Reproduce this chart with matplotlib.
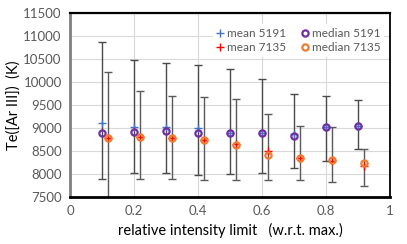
import matplotlib
matplotlib.use("Agg")
import matplotlib.pyplot as plt
import numpy as np

plt.rcParams['font.family'] = ['Lato', 'DejaVu Sans']

x5191 = [0.1, 0.2, 0.3, 0.4, 0.5, 0.6, 0.7, 0.8, 0.9]
x7135 = [0.12, 0.22, 0.32, 0.42, 0.52, 0.62, 0.72, 0.82, 0.92]

mean5191 = [9100, 9015, 9020, 8990, 8900, 8890, 8870, 9010, 9050]
median5191 = [8884, 8920, 8942, 8899, 8886, 8884, 8830, 9010, 9052]
hi5191 = [10870, 10478, 10406, 10370, 10283, 10058, 9746, 9703, 9616]
lo5191 = [7891, 8014, 8014, 7985, 7994, 8029, 8124, 8290, 8537]

mean7135 = [8780, 8810, 8790, 8740, 8650, 8490, 8350, 8290, 8180]
median7135 = [8776, 8804, 8790, 8739, 8632, 8410, 8341, 8297, 8233]
hi7135 = [10217, 9812, 9703, 9667, 9630, 9304, 9043, 9029, 8537]
lo7135 = [7300, 7898, 7898, 7863, 7863, 7863, 7863, 7826, 7739]

xticks = [0, 0.2, 0.4, 0.6, 0.8, 1]
xticklabels = ["0", "0.2", "0.4", "0.6", "0.8", "1"]
yticks = [7500, 8000, 8500, 9000, 9500, 10000, 10500, 11000, 11500]

fig = plt.figure(figsize=(4.07, 2.44), dpi=100)
ax = fig.add_axes([0.172, 0.193, 0.786, 0.754])

m5 = np.array(mean5191); m7 = np.array(mean7135)
ax.errorbar(x5191, m5, yerr=[m5 - np.array(lo5191), np.array(hi5191) - m5],
            fmt='none', ecolor='#4a4a4a', elinewidth=1.0, capsize=3, capthick=1.0, zorder=2)
ax.errorbar(x7135, m7, yerr=[m7 - np.array(lo7135), np.array(hi7135) - m7],
            fmt='none', ecolor='#5a5a5a', elinewidth=1.0, capsize=3, capthick=1.0, zorder=2)

h1, = ax.plot(x5191, mean5191, '+', color='#4472C4', markersize=6, mew=1.0, zorder=3, label='mean 5191')
h2, = ax.plot(x7135, mean7135, '+', color='#FF0000', markersize=6, mew=1.0, zorder=3, label='mean 7135')
h3, = ax.plot(x5191, median5191, 'o', mfc='none', mec='#7030A0', markersize=4.5, mew=1.6, zorder=4, label='median 5191')
h4, = ax.plot(x7135, median7135, 'o', mfc='none', mec='#ED7D31', markersize=4.5, mew=1.6, zorder=4, label='median 7135')

ax.set_xlim(0, 1)
ax.set_ylim(7500, 11500)
ax.set_xticks(xticks)
ax.set_xticklabels(xticklabels)
ax.set_yticks(yticks)
ax.tick_params(length=0, labelsize=9.5, labelcolor='#595959', pad=6)
ax.grid(True, color='#d9d9d9', linewidth=0.8, zorder=0)
ax.set_axisbelow(True)

for s in ['top', 'right', 'bottom']:
    ax.spines[s].set_color('black')
ax.spines['top'].set_linewidth(1.6)
ax.spines['right'].set_linewidth(1.3)
ax.spines['bottom'].set_linewidth(2.0)
ax.spines['left'].set_color('#808080')
ax.spines['left'].set_linewidth(2.0)

ax.set_xlabel('relative intensity limit   (w.r.t. max.)', fontsize=10.5, labelpad=4)
ax.set_ylabel('Te([Ar III])  (K)', fontsize=10.5, labelpad=2)

leg = ax.legend(handles=[h1, h2, h3, h4], ncol=2, loc='upper right',
                bbox_to_anchor=(1.0, 0.97), frameon=True, fontsize=8.5,
                handlelength=0.6, handletextpad=0.3, columnspacing=1.3,
                labelspacing=0.3, borderpad=0.3, labelcolor='#595959')
leg.get_frame().set_edgecolor('none')
leg.get_frame().set_facecolor('white')
leg.get_frame().set_alpha(1)

fig.savefig('out.png', dpi=100)
